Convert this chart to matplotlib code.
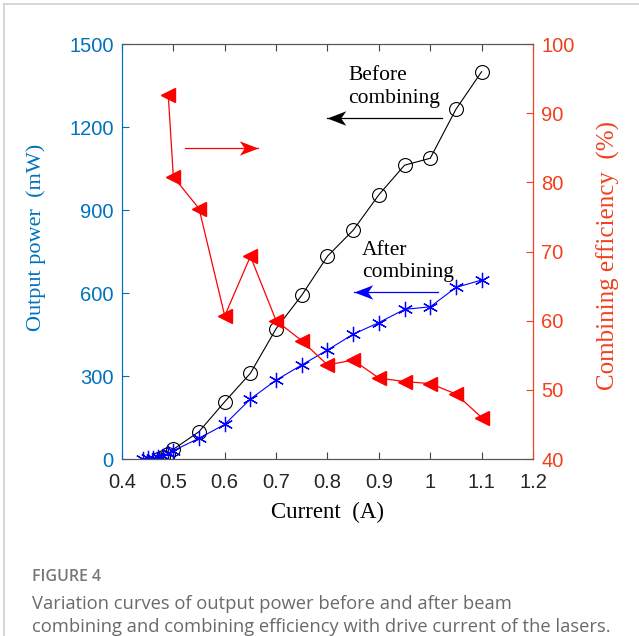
import matplotlib
matplotlib.use("Agg")
import matplotlib.pyplot as plt
from matplotlib.lines import Line2D
from matplotlib.path import Path

# output power before combining (mW)
before_x = [0.47, 0.48, 0.49, 0.50, 0.55, 0.60, 0.65, 0.70, 0.75, 0.80,
            0.85, 0.90, 0.95, 1.00, 1.05, 1.10]
before_y = [0, 8, 18, 35, 99, 207, 310, 471, 592, 733,
            827, 955, 1062, 1087, 1264, 1400]

# output power after combining (mW)
after_x = [0.44, 0.45, 0.46, 0.47, 0.48, 0.49, 0.50, 0.55, 0.60, 0.65,
           0.70, 0.75, 0.80, 0.85, 0.90, 0.95, 1.00, 1.05, 1.10]
after_y = [0, 2, 4, 7, 12, 20, 30, 75, 125, 217,
           285, 340, 394, 451, 493, 541, 550, 620, 647]

# combining efficiency (%)
eff_x = [0.49, 0.50, 0.55, 0.60, 0.65, 0.70, 0.75, 0.80, 0.85, 0.90,
         0.95, 1.00, 1.05, 1.10]
eff_y = [92.7, 80.8, 76.2, 60.7, 69.3, 60.0, 57.1, 53.6, 54.3, 51.7,
         51.2, 50.9, 49.4, 46.0]

x_ticks = [0.4, 0.5, 0.6, 0.7, 0.8, 0.9, 1.0, 1.1, 1.2]
x_labels = ["0.4", "0.5", "0.6", "0.7", "0.8", "0.9", "1", "1.1", "1.2"]
left_ticks = [0, 300, 600, 900, 1200, 1500]
right_ticks = [40, 50, 60, 70, 80, 90, 100]

BLUE = "#0072BD"
RED = "#F2401E"
SERIF = "Liberation Serif"
SANS = "Liberation Sans"

# notched arrow heads, tip at the origin
HEAD_LEFT = Path([(0, 0), (1.3, 0.5), (0.95, 0), (1.3, -0.5), (0, 0)],
                 [Path.MOVETO, Path.LINETO, Path.LINETO, Path.LINETO,
                  Path.CLOSEPOLY])
HEAD_RIGHT = Path([(0, 0), (-1.3, 0.5), (-0.95, 0), (-1.3, -0.5), (0, 0)],
                  [Path.MOVETO, Path.LINETO, Path.LINETO, Path.LINETO,
                   Path.CLOSEPOLY])


def arrow(a, x0, x1, y, color, head):
    a.plot([x0, x1], [y, y], color=color, lw=0.9, marker=head, ms=27,
           markevery=[1], mfc=color, mec=color, mew=0)


fig = plt.figure(figsize=(6.39, 6.36), dpi=100)
ax = fig.add_axes([0.1909, 0.2783, 0.6432, 0.6525])
ax2 = ax.twinx()

ax.plot(before_x, before_y, color="black", lw=0.8, marker="o", ms=10,
        mfc="none", mec="black", mew=0.8)
ax.plot(after_x, after_y, color="blue", lw=0.8, marker=(6, 2, 0), ms=11,
        mec="blue", mew=0.9)
ax2.plot(eff_x, eff_y, color="red", lw=0.9, marker="<", ms=10,
         mfc="red", mec="red")

ax.set_xlim(0.4, 1.2)
ax.set_ylim(0, 1500)
ax2.set_ylim(40, 100)
ax.set_xticks(x_ticks)
ax.set_xticklabels(x_labels)
ax.set_yticks(left_ticks)
ax2.set_yticks(right_ticks)

ax.tick_params(axis="x", direction="in", length=5, top=True, labelsize=14.5,
               labelcolor="#262626", color="#444444", pad=10)
ax.tick_params(axis="y", direction="in", length=5, labelsize=14.5,
               colors=BLUE, pad=6)
ax2.tick_params(axis="y", direction="in", length=5, labelsize=14.5,
                colors=RED, pad=6)
for lab in ax.get_xticklabels() + ax.get_yticklabels() + ax2.get_yticklabels():
    lab.set_fontfamily(SANS)

for a in (ax, ax2):
    a.spines["top"].set_color("#555555")
    a.spines["bottom"].set_color("#555555")
    a.spines["left"].set_color(BLUE)
    a.spines["right"].set_color(RED)

ax.set_xlabel("Current  (A)", fontfamily=SERIF, fontsize=16.5, labelpad=7)
ax.set_ylabel("Output power  (mW)", fontfamily=SERIF, fontsize=16,
              color=BLUE, labelpad=6)
ax.yaxis.set_label_coords(-0.185, 0.535)
ax2.set_ylabel("Combining efficiency  (%)", fontfamily=SERIF, fontsize=18,
               color=RED, labelpad=8)
ax2.yaxis.set_label_coords(1.155, 0.49)

# series annotations
ax.text(0.84, 1345, "Before\ncombining", fontfamily=SERIF, fontsize=15.5,
        va="center", ha="left", linespacing=1.25)
arrow(ax, 1.023, 0.80, 1232, "black", HEAD_LEFT)
ax.text(0.867, 713, "After\ncombining", fontfamily=SERIF, fontsize=15.5,
        va="center", ha="left", linespacing=1.25)
arrow(ax, 1.015, 0.852, 604, "blue", HEAD_LEFT)
arrow(ax, 0.523, 0.665, 1124, "red", HEAD_RIGHT)

# caption
fig.text(32 / 639, 1 - 577 / 636, "FIGURE 4", fontfamily="Open Sans",
         fontsize=11.5, fontweight="semibold", color="#777777", va="center")
fig.text(32 / 639, 1 - 615.5 / 636,
         "Variation curves of output power before and after beam\n"
         "combining and combining efficiency with drive current of the lasers.",
         fontfamily="Open Sans", fontsize=13.2, color="#6a6a6a", va="center",
         linespacing=1.3)

# page frame
fig.add_artist(Line2D([4 / 639, 1], [1 - 4 / 636, 1 - 4 / 636],
                      transform=fig.transFigure, color="#d0d0d0", lw=1.2))
fig.add_artist(Line2D([4 / 639, 4 / 639], [0, 1 - 4 / 636],
                      transform=fig.transFigure, color="#d0d0d0", lw=1.2))

fig.savefig("out.png", dpi=100)
